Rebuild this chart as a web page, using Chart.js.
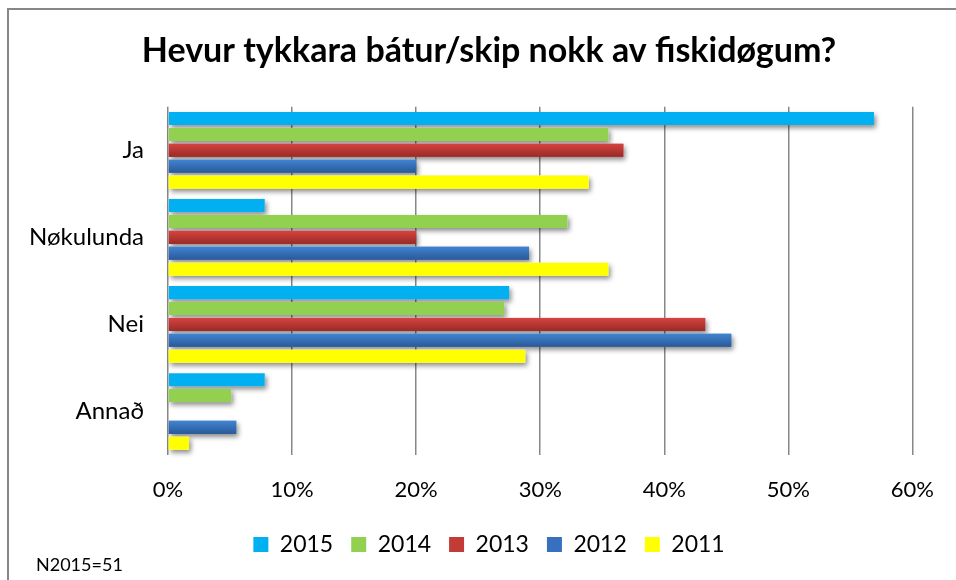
<!DOCTYPE html>
<html>
<head>
<meta charset="utf-8">
<script src="https://cdn.jsdelivr.net/npm/chart.js@4/dist/chart.umd.min.js"></script>
<style>
html,body{margin:0;padding:0;background:#fff;}
#wrap{position:relative;width:956px;height:580px;overflow:hidden;background:#fff;}
canvas{position:absolute;left:0;top:0;}
#frame{position:absolute;left:7px;top:8px;width:1000px;height:640px;border-left:2px solid #878787;border-top:2px solid #878787;pointer-events:none;}
#note{position:absolute;left:36px;top:553px;font:18px Lato,sans-serif;color:#000;white-space:nowrap;}
</style>
</head>
<body>
<div id="wrap">
  <canvas id="c" width="956" height="580"></canvas>
  <div id="frame"></div>
  <div id="note">N2015=51</div>
</div>
<script>
// ---- data ----
const categories = ['Ja', 'Nøkulunda', 'Nei', 'Annað'];
const seriesNames = ['2015', '2014', '2013', '2012', '2011'];
const values2015 = [56.9, 7.8, 27.5, 7.8];
const values2014 = [35.5, 32.2, 27.1, 5.1];
const values2013 = [36.7, 20.0, 43.3, 0];
const values2012 = [20.0, 29.1, 45.4, 5.5];
const values2011 = [33.9, 35.5, 28.8, 1.7];
const xTickValues = [0, 10, 20, 30, 40, 50, 60];
const xTickLabels = ['0%', '10%', '20%', '30%', '40%', '50%', '60%'];
const chartTitle = 'Hevur tykkara bátur/skip nokk av fiskidøgum?';

// ---- styles ----
const seriesColors = ['#00B0F0', '#92D050', '#C33B37', '#3670BE', '#FFFF00'];
const gradientStops = { 2: ['#D5433F', '#9A2A27'], 3: ['#4084D2', '#2A5997'] };
const centreBoxLeft = 60; // title and legend are centred between this and the plot's right edge

const seriesValues = [values2015, values2014, values2013, values2012, values2011];

Chart.defaults.font.family = 'Lato, sans-serif';
Chart.defaults.color = '#000';

const shiftBlocksPlugin = {
  id: 'shiftBlocks',
  afterLayout(chart) {
    if (chart.titleBlock) chart.titleBlock.left = centreBoxLeft;
    if (chart.legend) chart.legend.left = centreBoxLeft;
  }
};

const shadowPlugin = {
  id: 'barShadow',
  beforeDatasetsDraw(chart) {
    const ctx = chart.ctx;
    ctx.save();
    ctx.shadowColor = 'rgba(0,0,0,0.45)';
    ctx.shadowBlur = 5;
    ctx.shadowOffsetX = 2;
    ctx.shadowOffsetY = 3;
    ctx.fillStyle = '#ffffff';
    chart.data.datasets.forEach((ds, i) => {
      const meta = chart.getDatasetMeta(i);
      meta.data.forEach(bar => {
        const p = bar.getProps(['x', 'y', 'base', 'height'], true);
        if (Math.abs(p.x - p.base) < 0.5) return;
        ctx.fillRect(Math.min(p.base, p.x), p.y - p.height / 2, Math.abs(p.x - p.base), p.height);
      });
    });
    ctx.restore();
  }
};

const gradientPlugin = {
  id: 'barGradient',
  afterDatasetsDraw(chart) {
    const ctx = chart.ctx;
    ctx.save();
    Object.keys(gradientStops).forEach(k => {
      const i = Number(k);
      const meta = chart.getDatasetMeta(i);
      meta.data.forEach(bar => {
        const p = bar.getProps(['x', 'y', 'base', 'height'], true);
        if (Math.abs(p.x - p.base) < 0.5) return;
        const top = p.y - p.height / 2;
        const g = ctx.createLinearGradient(0, top, 0, top + p.height);
        g.addColorStop(0, gradientStops[i][0]);
        g.addColorStop(1, gradientStops[i][1]);
        ctx.fillStyle = g;
        ctx.fillRect(Math.min(p.base, p.x), top, Math.abs(p.x - p.base), p.height);
      });
    });
    ctx.restore();
  }
};

new Chart(document.getElementById('c'), {
  type: 'bar',
  data: {
    labels: categories,
    datasets: seriesNames.map((name, i) => ({
      label: name,
      data: seriesValues[i],
      backgroundColor: seriesColors[i],
      borderWidth: 0,
      categoryPercentage: 0.913,
      barPercentage: 0.82
    }))
  },
  options: {
    indexAxis: 'y',
    responsive: false,
    animation: false,
    layout: { padding: { left: 0, right: 38, top: 0, bottom: 14 } },
    plugins: {
      title: {
        display: true,
        text: chartTitle,
        font: { family: 'Lato, sans-serif', size: 34, weight: 'bold' },
        color: '#000',
        padding: { top: 31, bottom: 35 }
      },
      legend: {
        position: 'bottom',
        labels: {
          font: { family: 'Lato, sans-serif', size: 23 },
          color: '#000',
          boxWidth: 15,
          boxHeight: 15,
          padding: 18
        }
      },
      tooltip: { enabled: false }
    },
    scales: {
      x: {
        min: 0,
        max: 60,
        afterBuildTicks(scale) { scale.ticks = xTickValues.map(v => ({ value: v })); },
        ticks: {
          callback: (v, i) => xTickLabels[i],
          font: { family: 'Lato, sans-serif', size: 22 },
          color: '#000',
          padding: 22,
          maxRotation: 0
        },
        grid: { color: '#878787', lineWidth: 1.5, drawTicks: false },
        border: { display: false },
        afterFit(s) { s.height = 60; }
      },
      y: {
        grid: { display: false },
        border: { display: false },
        ticks: {
          font: { family: 'Lato, sans-serif', size: 24 },
          color: '#000',
          padding: 16
        },
        afterFit(s) { s.width = 168; }
      }
    }
  },
  plugins: [shiftBlocksPlugin, shadowPlugin, gradientPlugin]
});
</script>
</body>
</html>
